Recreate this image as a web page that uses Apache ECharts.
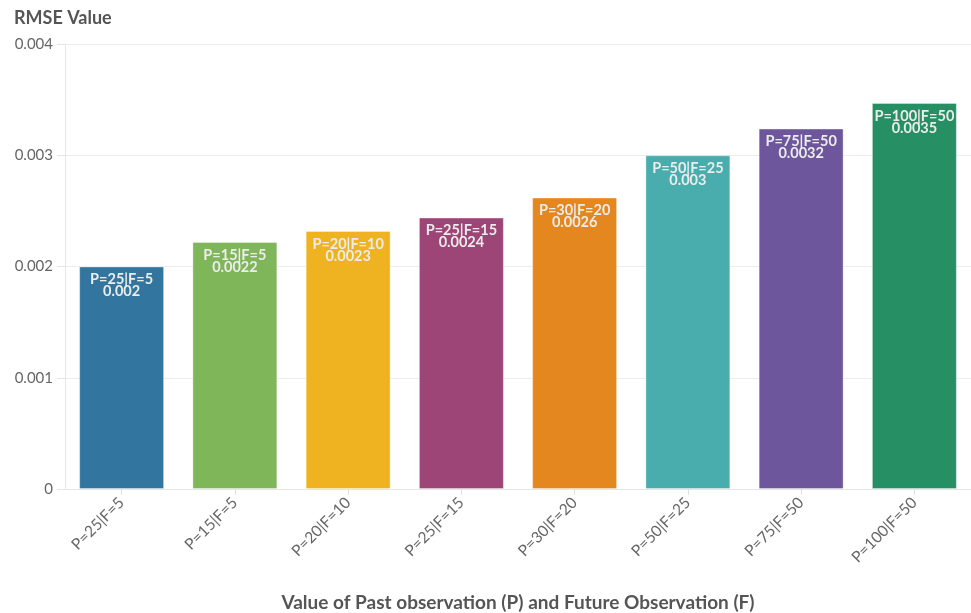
<!DOCTYPE html>
<html>
<head>
<meta charset="utf-8">
<script src="https://cdn.jsdelivr.net/npm/echarts@6/dist/echarts.min.js"></script>
<style>
  html, body { margin: 0; padding: 0; background: #fff; }
  #chart { width: 971px; height: 613px; }
</style>
</head>
<body>
<div id="chart"></div>
<script>
// Forecast window settings (P = past observations, F = future observations)
const categories = ['P=25|F=5', 'P=15|F=5', 'P=20|F=10', 'P=25|F=15', 'P=30|F=20', 'P=50|F=25', 'P=75|F=50', 'P=100|F=50'];
// RMSE per configuration
const rmseValues = [0.002, 0.00222, 0.00232, 0.00244, 0.00262, 0.003, 0.00324, 0.00347];
const barColors = ['#32769f', '#7fb65a', '#efb321', '#9c4576', '#e4871f', '#4aadad', '#6d569b', '#268f63'];
const yTicks = { min: 0, max: 0.004, interval: 0.001 };

const FONT = 'Lato, "Noto Sans", sans-serif';

const chart = echarts.init(document.getElementById('chart'), null, { renderer: 'canvas' });

chart.setOption({
  animation: false,
  textStyle: { fontFamily: FONT },
  title: {
    text: 'RMSE Value',
    left: 9, top: 4,
    textStyle: { fontFamily: FONT, fontSize: 18, fontWeight: 'bold', color: '#555' }
  },
  grid: { left: 65, right: 0, top: 44, bottom: 124, containLabel: false, outerBoundsMode: 'none' },
  xAxis: {
    type: 'category',
    data: categories,
    name: 'Value of Past observation (P) and Future Observation (F)',
    nameLocation: 'middle',
    nameGap: 104,
    nameTextStyle: { fontFamily: FONT, fontSize: 19, fontWeight: 'bold', color: '#555' },
    axisLine: { show: true, lineStyle: { color: '#e6e6e6', width: 1 } },
    axisTick: { show: true, alignWithLabel: true, length: 6, lineStyle: { color: '#e0e0e0' } },
    axisLabel: { rotate: 45, fontSize: 15.5, color: '#666', margin: 11, interval: 0 }
  },
  yAxis: {
    type: 'value',
    min: yTicks.min, max: yTicks.max, interval: yTicks.interval,
    axisLine: { show: true, lineStyle: { color: '#e6e6e6', width: 1 } },
    axisTick: { show: true, length: 8, lineStyle: { color: '#e6e6e6' } },
    splitLine: { show: true, lineStyle: { color: '#ececec', width: 1 } },
    axisLabel: { fontSize: 15, color: '#666', margin: 12 }
  },
  series: [{
    type: 'bar',
    barWidth: '75%',
    data: rmseValues.map((v, i) => ({
      value: v,
      itemStyle: { color: barColors[i], borderColor: 'rgba(255,255,255,0.35)', borderWidth: 1 }
    })),
    label: {
      show: true,
      position: 'insideTop',
      distance: 7,
      fontFamily: FONT,
      fontSize: 14.5,
      fontWeight: 'bold',
      lineHeight: 12,
      color: '#ececec',
      formatter: p => categories[p.dataIndex] + '\n' + Number(p.value.toPrecision(2))
    }
  }]
});
</script>
</body>
</html>
